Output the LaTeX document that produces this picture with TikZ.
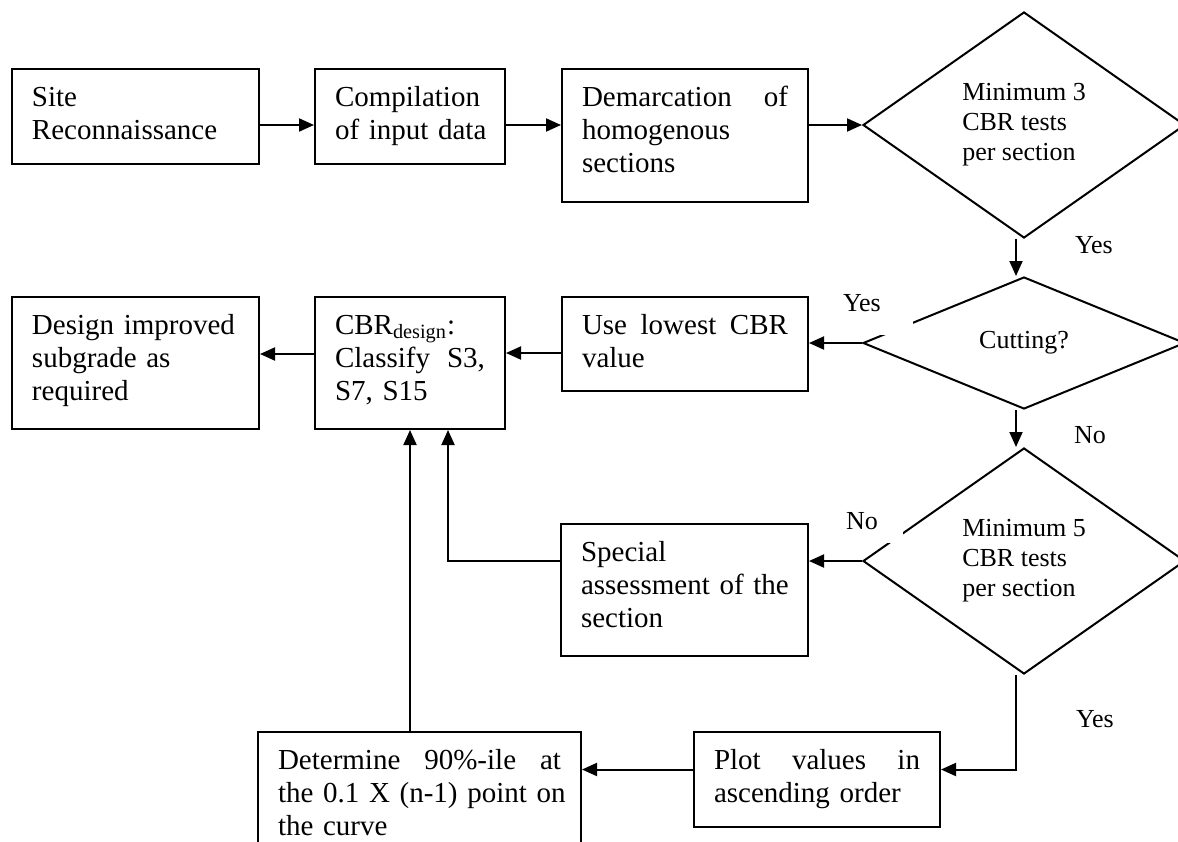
\documentclass[tikz,border=0pt]{standalone}
\usepackage{fontspec}
\setmainfont{Liberation Serif}
\usetikzlibrary{shapes,shapes.geometric,arrows,arrows.meta,calc,positioning}

\begin{document}
\begin{tikzpicture}[>={Triangle[length=7.5pt,width=6.5pt]}, line width=1pt,
    x=0.5pt, y=-0.5pt,
    block/.style={draw, anchor=north west, align=left, inner xsep=10pt,
      inner ysep=0pt, text height=18.5pt,
      font=\fontsize{14.5pt}{16.5pt}\selectfont},
    decision/.style={draw, diamond, inner sep=0pt, align=left,
      minimum width=161pt, font=\fontsize{13pt}{15pt}\selectfont},
    answer/.style={anchor=base west, inner sep=0pt,
      font=\fontsize{13pt}{15pt}\selectfont},
    answerbox/.style={answer, anchor=north west, fill=white, align=left,
      inner sep=3.5pt, text height=9pt}]
    \useasboundingbox (0,0) rectangle (1178,841);
    \clip (0,0) rectangle (1178,841);
    % top row
    \node [block, text width=103.5pt, text depth=29pt] (site) at (11,68) {Site\\Reconnaissance};
    \node [block, text width=75pt, text depth=29pt] (comp) at (314,68) {Compilation\\\mbox{of input data}};
    \node [block, text width=103pt, text depth=48pt] (demarc) at (561,68) {Demarcation\hfill of\\homogenous\\sections};
    % decisions on the right
    \node [decision, minimum height=113pt] (d1) at (1024,125) {Minimum 3\\CBR tests\\per section};
    \node [decision, minimum height=66pt] (d2) at (1024,343) {Cutting?};
    \node [decision, minimum height=113pt] (d3) at (1024,561) {Minimum 5\\CBR tests\\per section};
    % second row
    \node [block, text width=103.5pt, text depth=47.5pt] (design) at (11,296) {Design improved\\subgrade as\\required};
    \node [block, text width=75pt, text depth=47.5pt] (cbr) at (314,296) {CBR\textsubscript{design}:\\Classify\hfill S3,\\S7, S15};
    \node [block, text width=103pt, text depth=28.5pt] (use) at (561,296) {Use\hfill lowest\hfill CBR\\value};
    \node [block, text width=103.5pt, text depth=47.5pt] (special) at (560,523) {Special\\\mbox{assessment of the}\\section};
    % bottom row
    \node [block, text width=141.5pt, text depth=46.5pt] (determine) at (257,731) {Determine\hfill 90\%-ile\hfill at\\\mbox{the 0.1 X (n-1) point on}\\the curve};
    \node [block, text width=103pt, text depth=29pt] (plot) at (693,731) {Plot\hfill values\hfill in\\ascending order};
    % yes/no labels
    \node [answer] (yes1) at (1074,253) {Yes};
    \node [answerbox, text width=31.5pt, text depth=8.5pt] (yes2) at (835,285) {Yes};
    \node [answer] (no1) at (1073,443) {No};
    \node [answerbox, text width=25pt, text depth=3.5pt] (no2) at (838,503) {No};
    \node [answer] (yes3) at (1075,727) {Yes};
    \path[->] (site.east |- d1) edge (comp.west |- d1)
              (comp.east |- d1) edge (demarc.west |- d1)
              (demarc.east |- d1) edge (d1.west)
              ([xshift=-4pt]d1.south) edge ([xshift=-4pt]d2.north)
              ([xshift=-4pt]d2.south) edge ([xshift=-4pt]d3.north)
              (d2.west) edge (d2.west -| use.east)
              ([yshift=-4.5pt]use.west) edge ([yshift=-4.5pt]use.west -| cbr.east)
              ([yshift=4.5pt]cbr.west) edge ([yshift=4.5pt]cbr.west -| design.east)
              (d3.west) edge (d3.west -| special.east)
              ([yshift=5pt]plot.west) edge ([yshift=5pt]plot.west -| determine.east)
              (determine.north -| cbr.south) edge (cbr.south);
    \draw[->] (special.west |- d3.west) -| ([xshift=19pt]cbr.south);
    \draw[->] ([xshift=-4pt]d3.south) |- ([yshift=5pt]plot.east);
\end{tikzpicture}
\end{document}
